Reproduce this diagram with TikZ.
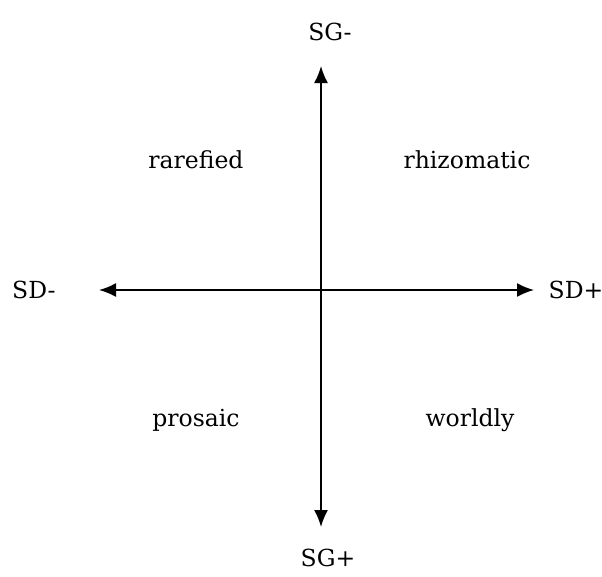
\documentclass[tikz,border=0pt]{standalone}
\usepackage{fontspec}
\setmainfont{DejaVu Serif}
\usetikzlibrary{arrows.meta}
\begin{document}
\begin{tikzpicture}[x=1pt,y=-1pt,
  axis/.style={line width=1.8pt,{Latex[length=17pt,width=14pt]}-{Latex[length=17pt,width=14pt]}},
  lbl/.style={font=\fontsize{23.5}{28}\selectfont,inner sep=0pt}]
\useasboundingbox (0,0) rectangle (602,576);
\coordinate (top) at (321,66);
\coordinate (bot) at (321,527);
\coordinate (left) at (99,290);
\coordinate (right) at (534,290);
\draw[axis] (bot) -- (top);
\draw[axis] (left) -- (right);
\node[lbl] (sgm) at (330,32) {SG-};
\node[lbl] (sgp) at (328,558) {SG+};
\node[lbl,anchor=west] (sdm) at (12,290) {SD-};
\node[lbl] (sdp) at (576,290) {SD+};
\node[lbl] (rar) at (196,160) {rarefied};
\node[lbl] (rhi) at (467,160) {rhizomatic};
\node[lbl] (pro) at (196,420) {prosaic};
\node[lbl] (wor) at (470,420) {worldly};
\end{tikzpicture}
\end{document}
